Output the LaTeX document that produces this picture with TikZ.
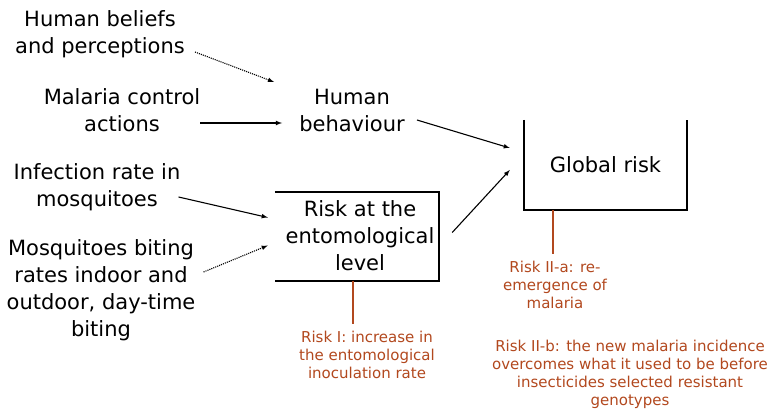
\documentclass[tikz,border=0pt]{standalone}
\usepackage{fontspec}
\setmainfont{DejaVu Sans}
\usetikzlibrary{arrows, positioning}
\definecolor{riskred}{RGB}{178,72,30}
\begin{document}
\begin{tikzpicture}[
        x=1pt, y=-1pt,
        txt/.style={inner sep=0pt, align=center, font=\fontsize{21}{27}\selectfont},
        note/.style={inner sep=0pt, align=center, text=riskred, font=\fontsize{15}{18}\selectfont},
        side/.style={line width=1.6pt},
        arrow/.style={-latex, line width=1.1pt},
        link/.style={riskred, line width=1.5pt}
    ]
    \useasboundingbox (0,0) rectangle (776,419);

    % Inputs
    \node[txt] (beliefs) at (100,34) {Human beliefs\\and perceptions};
    \node[txt] (control) at (122,110) {Malaria control\\actions};
    \node[txt] (infection) at (97,187) {Infection rate in\\mosquitoes};
    \node[txt] (biting) at (101,290) {Mosquitoes biting\\rates indoor and\\outdoor, day-time\\biting};

    % Human behaviour
    \node[txt] (behaviour) at (352,110) {Human\\behaviour};

    % Entomological risk (open on the left)
    \node[txt, minimum width=164pt, minimum height=89pt] (ento) at (357,236.5) {};
    \node[txt] (entotext) at (360,236) {Risk at the\\entomological\\level};
    \draw[side] (ento.north west) -- (ento.north east) -- (ento.south east) -- (ento.south west);

    % Global risk (open on the top)
    \node[txt, minimum width=163pt, minimum height=90pt] (global) at (605.5,165) {Global risk};
    \draw[side] (global.north west) -- (global.south west) -- (global.south east) -- (global.north east);

    % Risk notes
    \node[note] (riskI) at (367,355) {Risk I: increase in\\the entomological\\inoculation rate};
    \node[note] (riskIIa) at (555,285) {Risk II-a: re-\\emergence of\\malaria};
    \node[note] (riskIIb) at (630,374) {Risk II-b: the new malaria incidence\\overcomes what it used to be before\\insecticides selected resistant\\genotypes};

    % Edges
    \draw[arrow, densely dotted] ([shift={(10,18)}]beliefs.east) -- ([shift={(-25,-28)}]behaviour.west);
    \draw[arrow] ([shift={(0,13)}]control.east) -- ([shift={(-17,13)}]behaviour.west);
    \draw[arrow] ([shift={(12,10)}]behaviour.east) -- ([shift={(-14,-17)}]global.west);
    \draw[arrow] ([shift={(-2,10)}]infection.east) -- ([shift={(-7,-19)}]ento.west);
    \draw[arrow, densely dotted] ([shift={(8,-18)}]biting.east) -- ([shift={(-7,9)}]ento.west);
    \draw[arrow] ([shift={(13,-4)}]ento.east) -- ([shift={(-14,5)}]global.west);
    \draw[link] ([xshift=-4pt]ento.south) -- ([shift={(-4,-7)}]ento.south |- riskI.north);
    \draw[link] ([xshift=-52.5pt]global.south) -- ([shift={(-52.5,-7)}]global.south |- riskIIa.north);
\end{tikzpicture}
\end{document}
